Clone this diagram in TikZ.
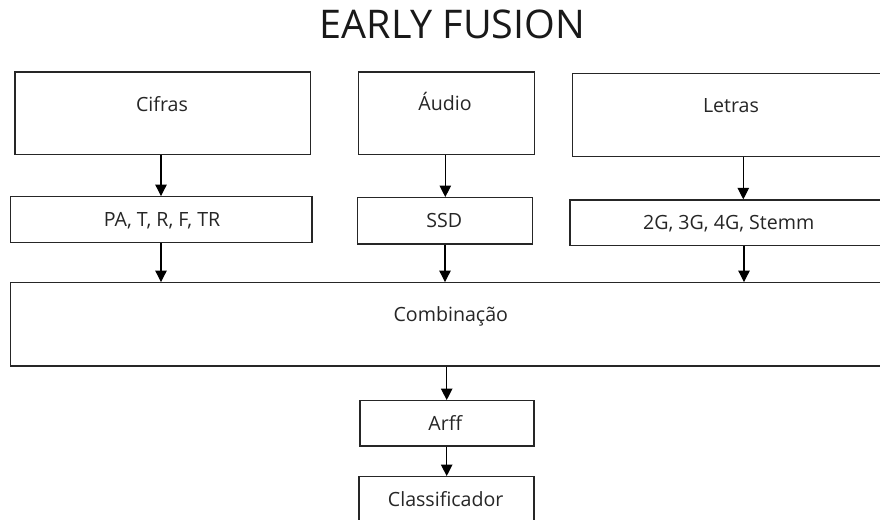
\documentclass[tikz,border=0pt]{standalone}
\usepackage{fontspec}
\setmainfont{Open Sans}
\usetikzlibrary{arrows.meta}
\tikzset{
  box/.style={draw=black!85, line width=1.3pt, rectangle, inner sep=0pt, fill=white},
  lbl/.style={anchor=base, inner sep=0pt, font=\fontsize{19.6}{21}\selectfont, text=black!85},
  arr/.style={draw=black, line width=1.1pt, -{Triangle[width=11.5pt,length=11.5pt]}},
}
\begin{document}
\begin{tikzpicture}[x=1pt,y=-1pt]
\useasboundingbox (0,0) rectangle (880,519);
\clip (0,0) rectangle (880,519);
\fill[white] (0,0) rectangle (880,519);
% title
\node[anchor=base, inner sep=0pt, font=\fontsize{39.5}{42}\selectfont, text=black!90] (title) at (452.4,38.3) {EARLY FUSION};
% boxes
\node[box, minimum width=295.7pt, minimum height=82.7pt] (cif) at (162.85,113.35) {};
\node[box, minimum width=175.6pt, minimum height=82.7pt] (aud) at (446.5,113.35) {};
\node[box, minimum width=317.3pt, minimum height=83.4pt] (let) at (731.35,115) {};
\node[box, minimum width=301.7pt, minimum height=46pt] (pa) at (161.15,219.7) {};
\node[box, minimum width=175pt, minimum height=46.3pt] (ssd) at (445.2,220.85) {};
\node[box, minimum width=318pt, minimum height=45.3pt] (gg) at (729,222.65) {};
\node[box, minimum width=880.7pt, minimum height=83.3pt] (comb) at (450.65,324.35) {};
\node[box, minimum width=174pt, minimum height=45.3pt] (arff) at (447,423.35) {};
\node[box, minimum width=175pt, minimum height=45.3pt] (cls) at (446.5,499.35) {};
% labels
\node[lbl] (ciftxt) at (162,111) {Cifras};
\node[lbl] (audtxt) at (445,110.7) {Áudio};
\node[lbl] (lettxt) at (731,112.7) {Letras};
\node[lbl] (patxt) at (162,226.7) {PA, T, R, F, TR};
\node[lbl] (ssdtxt) at (444.3,227.7) {SSD};
\node[lbl] (ggtxt) at (728.7,229.3) {2G, 3G, 4G, Stemm};
\node[lbl] (combtxt) at (450.8,321.7) {Combinação};
\node[lbl] (arfftxt) at (445.2,430.7) {Arff};
\node[lbl] (clstxt) at (445.7,506.7) {Classificador};
% arrows
\draw[arr] (cif.south -| 161,0) -- (pa.north -| 161,0);
\draw[arr] (aud.south -| 445.3,0) -- (ssd.north -| 445.3,0);
\draw[arr] (let.south -| 743.3,0) -- (gg.north -| 743.3,0);
\draw[arr] (pa.south -| 161,0) -- (comb.north -| 161,0);
\draw[arr] (ssd.south -| 445,0) -- (comb.north -| 445,0);
\draw[arr] (gg.south -| 744,0) -- (comb.north -| 744,0);
\draw[arr] (comb.south -| 446.7,0) -- (arff.north -| 446.7,0);
\draw[arr] (arff.south -| 446.7,0) -- (cls.north -| 446.7,0);
\end{tikzpicture}
\end{document}
